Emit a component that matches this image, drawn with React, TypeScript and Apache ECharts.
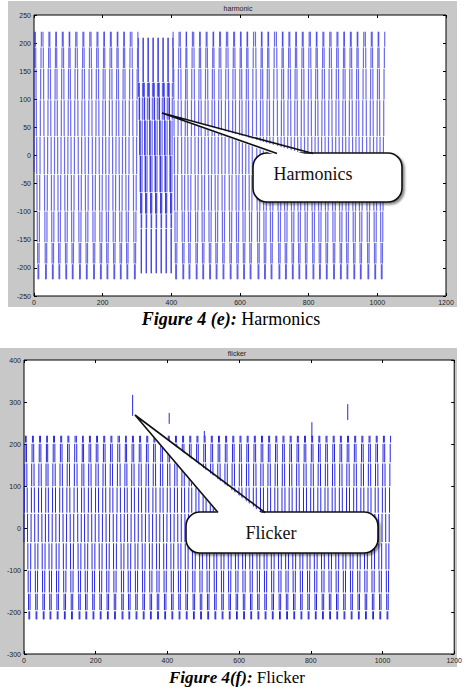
import React, { useEffect, useRef } from "react";
import * as echarts from "echarts";

// ---------------- Data ----------------
// Figure 4(e): harmonic — time (x) of the positive peak of each 50 Hz cycle
const harmNormalPeaks = [
  2.9, 25, 45, 64, 84, 103, 124, 144, 165, 185, 204, 224, 243, 262, 284,
  404, 425, 443, 464, 483, 503, 522, 542, 563, 583, 602, 621, 644, 663, 682,
  705, 724, 744, 763, 783, 804, 823, 843, 864, 884, 903, 923, 942, 964, 984, 1003,
];
// distorted cycles (harmonic disturbance between ~300 and ~400)
const harmDistortPeaks = [304, 318.5, 333, 347.5, 362, 376.5, 391];
// level jumps of one normal cycle: [time after peak, from level, to level]
const harmNormalJumps = [
  [1.1, 221, 193], [2.1, 193, 155], [3.0, 155, 99], [3.9, 99, 34], [4.9, 34, -34],
  [5.8, -34, -99], [6.7, -99, -155], [7.7, -155, -193], [8.7, -193, -221],
  [10.9, -221, -193], [11.9, -193, -155], [12.8, -155, -99], [13.7, -99, -34], [14.7, -34, 34],
  [15.6, 34, 99], [16.5, 99, 155], [17.5, 155, 193], [18.5, 193, 221],
];
// level jumps of one distorted cycle
const harmDistortJumps = [
  [0.2, 210, 130], [1.0, 130, 104], [1.6, 104, 130], [2.1, 130, 104], [2.6, 104, 63],
  [3.1, 63, 104], [3.5, 104, 63], [4.0, 63, 0], [4.5, 0, 63], [5.0, 63, 0], [5.5, 0, -66],
  [6.0, -66, 0], [6.4, 0, -66], [6.9, -66, -104], [7.3, -104, -66], [7.7, -66, -104],
  [8.1, -104, -130], [8.5, -130, -210], [8.8, -210, -130], [9.5, -130, -104], [10.1, -104, -66],
  [10.7, -66, 0], [11.2, 0, 63], [11.7, 63, 104], [12.1, 104, 130], [13.4, 130, 210],
];
// jumps at the very start of the trace
const harmStartJumps = [[0, -30, 155], [1.2, 155, 193], [2.0, 193, 221]];

// Figure 4(f): flicker
const flickerPeaks = [
  5, 25, 45, 64, 84, 104, 124, 145, 164, 184, 204, 224, 244, 265, 284, 304, 324, 344, 364, 384,
  404, 424, 444, 464, 484, 504, 524, 544, 564, 584, 604, 624, 644, 664, 684, 704, 724, 744, 764,
  784, 804, 824, 844, 864, 884, 904, 924, 944, 964, 984, 1004,
];
const flickerJumps = [
  [1.1, 221, 202], [2.1, 202, 155], [3.0, 155, 98], [3.9, 98, 35], [4.9, 35, -35],
  [5.8, -35, -100], [6.7, -100, -155], [7.7, -155, -197], [8.7, -197, -219],
  [10.9, -219, -197], [11.9, -197, -155], [12.8, -155, -100], [13.7, -100, -35], [14.7, -35, 35],
  [15.6, 35, 98], [16.5, 98, 155], [17.5, 155, 202], [18.5, 202, 221],
];
const flickerStartJumps = [[0, -35, 35], [1, 35, 98], [2, 98, 155], [3, 155, 202], [4, 202, 221]];
// flicker spikes: [x, low, high]
const flickerSpikes = [
  [303, 267, 317],
  [405, 248, 274],
  [503, 218, 231],
  [803, 217, 252],
  [903, 257, 295],
];

// axes
const xTicks = { min: 0, max: 1200, step: 200 };
const harmYTicks = { min: -250, max: 250, step: 50 };
const flickerYTicks = { min: -300, max: 400, step: 100 };

// ---------------- helpers ----------------
function buildSegments(start: number[][], groups: { peaks: number[]; jumps: number[][] }[]) {
  const out: number[][] = start.map((d) => [d[0], d[1], d[2]]);
  groups.forEach((g) =>
    g.peaks.forEach((p) => g.jumps.forEach(([dt, a, b]) => out.push([p + dt, a, b])))
  );
  return out;
}

function segmentRenderer(color: string, width: number, opacity: number, gap: number) {
  return (_params: any, api: any) => {
    const x = api.value(0);
    const p1 = api.coord([x, api.value(1)]);
    const p2 = api.coord([x, api.value(2)]);
    const top = Math.min(p1[1], p2[1]) + gap;
    const bot = Math.max(p1[1], p2[1]) - gap;
    return {
      type: "line",
      shape: { x1: p1[0], y1: top, x2: p1[0], y2: bot },
      style: { stroke: color, lineWidth: width, opacity },
    };
  };
}

function callout(
  tip: number[], b1: number[], b2: number[],
  box: { x: number; y: number; w: number; h: number },
  text: string, tx: number, ty: number
) {
  return [
    {
      type: "rect", z: 100,
      shape: { x: box.x, y: box.y, width: box.w, height: box.h, r: 14 },
      style: {
        fill: "#fff", stroke: "#111", lineWidth: 1.6,
        shadowBlur: 2, shadowOffsetX: 2, shadowOffsetY: 2, shadowColor: "rgba(0,0,0,0.45)",
      },
    },
    {
      type: "polygon", z: 101,
      shape: { points: [tip, [b1[0] + 1, b1[1] + 2.5], [b2[0] - 1, b2[1] + 2.5]] },
      style: { fill: "#fff" },
    },
    {
      type: "polyline", z: 102,
      shape: { points: [b1, tip, b2] },
      style: { stroke: "#111", lineWidth: 1.6, fill: null },
    },
    {
      type: "text", z: 103, x: tx, y: ty,
      style: {
        text, fontSize: 18, fontFamily: "Liberation Serif", fill: "#111",
        align: "center", verticalAlign: "middle", textAlign: "center", textVerticalAlign: "middle",
      },
    },
  ];
}

const labelStyle = { fontSize: 7, color: "#222", fontFamily: "Liberation Sans" };

export default function App() {
  const ref = useRef<HTMLDivElement>(null);
  useEffect(() => {
    if (!ref.current) return;
    const chart = echarts.init(ref.current, undefined, { renderer: "svg" });

    const harmData = buildSegments(harmStartJumps, [
      { peaks: harmNormalPeaks, jumps: harmNormalJumps },
      { peaks: harmDistortPeaks, jumps: harmDistortJumps },
    ]);
    const flickerData = buildSegments(flickerStartJumps, [{ peaks: flickerPeaks, jumps: flickerJumps }]);

    const xCommon = (grid: number, pos: "bottom" | "top", showLabel: boolean) => ({
      type: "value", gridIndex: grid, position: pos,
      min: xTicks.min, max: xTicks.max, interval: xTicks.step,
      axisLine: { show: false, onZero: false },
      axisTick: { show: true, inside: true, length: 3, lineStyle: { color: "#000", width: 1 } },
      axisLabel: { show: showLabel, margin: 3, formatter: (v: number) => String(v), ...labelStyle },
      splitLine: { show: false },
    });
    const yCommon = (grid: number, pos: "left" | "right", t: any, showLabel: boolean) => ({
      type: "value", gridIndex: grid, position: pos,
      min: t.min, max: t.max, interval: t.step,
      axisLine: { show: false, onZero: false },
      axisTick: { show: true, inside: true, length: 3, lineStyle: { color: "#000", width: 1 } },
      axisLabel: { show: showLabel, margin: 3, formatter: (v: number) => String(v), ...labelStyle },
      splitLine: { show: false },
    });

    chart.setOption({
      animation: false,
      backgroundColor: "#fff",
      grid: [
        { left: 34, top: 15, width: 412, height: 281, show: true, backgroundColor: "#fff", borderColor: "#000", borderWidth: 1 },
        { left: 24, top: 360, width: 431, height: 294, show: true, backgroundColor: "#fff", borderColor: "#000", borderWidth: 1 },
      ],
      xAxis: [
        xCommon(0, "bottom", true),
        xCommon(0, "top", false),
        xCommon(1, "bottom", true),
        xCommon(1, "top", false),
      ],
      yAxis: [
        yCommon(0, "left", harmYTicks, true),
        yCommon(0, "right", harmYTicks, false),
        yCommon(1, "left", flickerYTicks, true),
        yCommon(1, "right", flickerYTicks, false),
      ],
      series: [
        {
          name: "harmonic", type: "custom", xAxisIndex: 0, yAxisIndex: 0,
          data: harmData, encode: { x: 0, y: [1, 2] }, silent: true,
          renderItem: segmentRenderer("#3030e6", 1.2, 0.72, 0.35),
        },
        {
          name: "flicker", type: "custom", xAxisIndex: 2, yAxisIndex: 2,
          data: flickerData, encode: { x: 0, y: [1, 2] }, silent: true,
          renderItem: segmentRenderer("#1a1ade", 1, 0.95, 0.6),
        },
        {
          name: "flicker spikes", type: "custom", xAxisIndex: 2, yAxisIndex: 2,
          data: flickerSpikes, encode: { x: 0, y: [1, 2] }, silent: true,
          renderItem: segmentRenderer("#1a1ade", 1, 0.95, 0),
        },
      ],
      graphic: [
        { type: "rect", z: -10, shape: { x: 8, y: 1, width: 449, height: 306 }, style: { fill: "#c8c8c8" } },
        { type: "rect", z: -10, shape: { x: 0, y: 348, width: 457, height: 319 }, style: { fill: "#c8c8c8" } },
        {
          type: "text", x: 238, y: 8,
          style: { text: "harmonic", fontSize: 7, fontFamily: "Liberation Sans", fill: "#222", align: "center", verticalAlign: "middle", textAlign: "center", textVerticalAlign: "middle" },
        },
        {
          type: "text", x: 237, y: 353,
          style: { text: "flicker", fontSize: 7, fontFamily: "Liberation Sans", fill: "#222", align: "center", verticalAlign: "middle", textAlign: "center", textVerticalAlign: "middle" },
        },
        ...callout([162, 113], [277, 153.5], [313, 153.5], { x: 253, y: 153, w: 149, h: 49 }, "Harmonics", 313, 174),
        ...callout([135, 415], [218, 512.5], [265, 512.5], { x: 186, y: 512, w: 192, h: 41 }, "Flicker", 271, 533),
        {
          type: "text", x: 231, y: 319,
          style: {
            text: "{b|Figure 4 (e):} Harmonics", fontSize: 18, fontFamily: "Liberation Serif", fill: "#000",
            align: "center", verticalAlign: "middle", textAlign: "center", textVerticalAlign: "middle",
            rich: { b: { fontSize: 18, fontFamily: "Liberation Serif", fontWeight: "bold", fontStyle: "italic", fill: "#000" } },
          },
        },
        {
          type: "text", x: 237, y: 677,
          style: {
            text: "{b|Figure 4(f):} Flicker", fontSize: 17, fontFamily: "Liberation Serif", fill: "#000",
            align: "center", verticalAlign: "middle", textAlign: "center", textVerticalAlign: "middle",
            rich: { b: { fontSize: 17, fontFamily: "Liberation Serif", fontWeight: "bold", fontStyle: "italic", fill: "#000" } },
          },
        },
      ],
    });
    return () => chart.dispose();
  }, []);
  return <div ref={ref} style={{ position: "absolute", left: 0, top: 0, width: 465, height: 687 }} />;
}
